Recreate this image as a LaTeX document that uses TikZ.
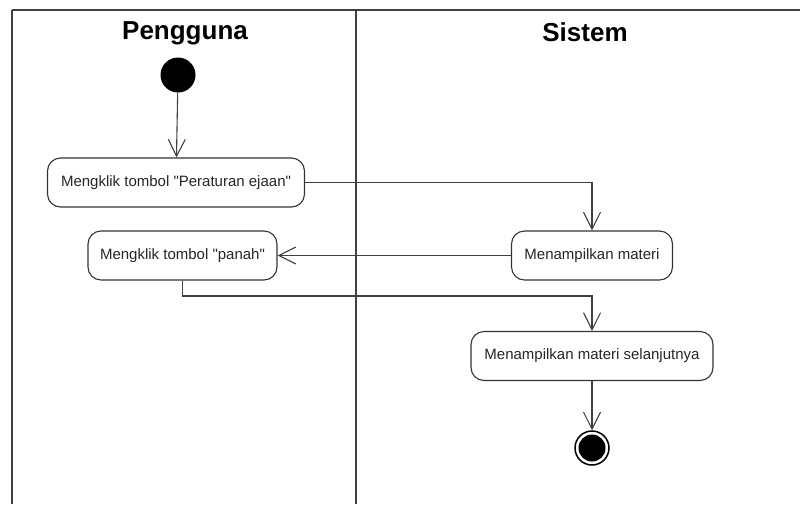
\documentclass[tikz,border=0pt]{standalone}
\usepackage{fontspec}
\setmainfont{Liberation Sans}
\usetikzlibrary{arrows.meta}
\begin{document}
\begin{tikzpicture}[x=1pt,y=-1pt,
  frame/.style={line width=2.2pt,draw=black!75},
  act/.style={draw=black!80,line width=1.1pt,rounded corners=13pt,fill=white,
    minimum height=49pt,inner xsep=10pt,font=\fontsize{15}{16}\selectfont,text=black!85},
  flow/.style={draw=black!75,line width=1.1pt,-{Straight Barb[length=17pt,width=17pt,line width=1.1pt]}},
  title/.style={font=\fontsize{26}{28}\selectfont\bfseries}]
\useasboundingbox (0,0) rectangle (800,504);
% swimlane frame
\draw[frame] (12,10) -- (800,10);
\draw[frame] (12,10) -- (12,504);
\draw[frame] (356,10) -- (356,504);
\node[title] (t1) at (185,33) {Pengguna};
\node[title] (t2) at (585,32) {Sistem};
% start
\node[circle,fill=black,minimum size=35pt,inner sep=0pt] (start) at (178,75) {};
% activities
\node[act,minimum width=257pt] (a1) at (176,182.5) {Mengklik tombol \textquotedbl Peraturan ejaan\textquotedbl};
\node[act,minimum width=189pt] (a2) at (182.5,255.5) {Mengklik tombol \textquotedbl panah\textquotedbl};
\node[act,minimum width=161pt] (a3) at (592,255.5) {Menampilkan materi};
\node[act,minimum width=242pt] (a4) at (592,356) {Menampilkan materi selanjutnya};
% end
\node[circle,draw=black,line width=1.5pt,fill=white,minimum size=34pt,inner sep=0pt] (end) at (592,448) {};
\node[circle,fill=black,minimum size=27pt,inner sep=0pt] (endin) at (end) {};
% flows
\draw[flow] (start) -- (a1);
\draw[flow] (a1.east) -| (a3.north);
\draw[flow] (a3.west) -- (a2.east);
\coordinate (c1) at (182.5,296);
\draw[flow] (a2.south) -- (c1) -| (a4.north);
\draw[flow] (a4.south) -- (end.north);
\end{tikzpicture}
\end{document}
